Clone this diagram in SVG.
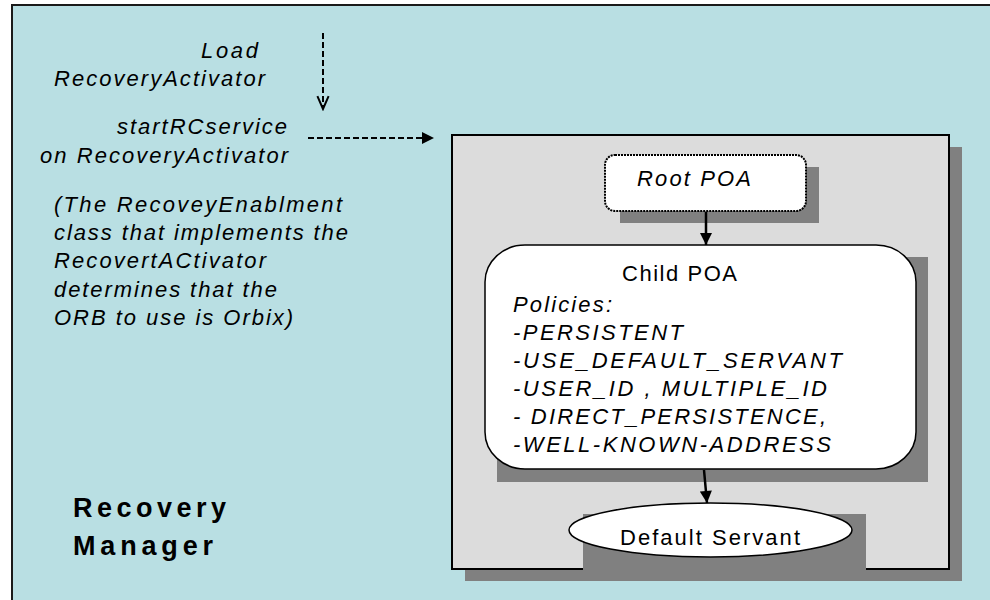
<svg xmlns="http://www.w3.org/2000/svg" width="990" height="600" viewBox="0 0 990 600">
<defs>
<style>
.it{font-family:"Liberation Sans",Arial,sans-serif;font-style:italic;font-size:22px;fill:#000}
.rg{font-family:"Liberation Sans",Arial,sans-serif;font-size:22px;fill:#000}
.bd{font-family:"Liberation Sans",Arial,sans-serif;font-weight:bold;font-size:27px;fill:#000}
.shadow{fill:#808080}
.node{fill:#fff;stroke:#000;stroke-width:1.5}
.dash{fill:none;stroke:#000;stroke-width:2;stroke-dasharray:6 3}
.solid{fill:none;stroke:#000;stroke-width:2.5}
</style>
<marker id="tri" viewBox="0 0 10 10" refX="10" refY="5" markerWidth="14" markerHeight="12" markerUnits="userSpaceOnUse" orient="auto">
<path d="M0,0 L10,5 L0,10 Z" fill="#000"/>
</marker>
<marker id="vee" viewBox="0 0 20 16" refX="18" refY="8" markerWidth="16" markerHeight="14" markerUnits="userSpaceOnUse" orient="auto">
<path d="M2,1 L18,8 L2,15" fill="none" stroke="#000" stroke-width="2.5"/>
</marker>
</defs>

<g id="recovery-manager">
<rect x="12" y="5" width="1000" height="620" fill="#B9DFE3" stroke="#1a1a1a" stroke-width="2"/>
<text class="bd" x="73" y="517" textLength="153" lengthAdjust="spacing">Recovery</text>
<text class="bd" x="73" y="555" textLength="140" lengthAdjust="spacing">Manager</text>
</g>

<g id="labels">
<text class="it" x="201" y="58" textLength="57" lengthAdjust="spacing">Load</text>
<text class="it" x="54" y="86" textLength="211" lengthAdjust="spacing">RecoveryActivator</text>
<text class="it" x="117" y="134" textLength="170" lengthAdjust="spacing">startRCservice</text>
<text class="it" x="40" y="163" textLength="248" lengthAdjust="spacing">on RecoveryActivator</text>
<text class="it" x="54" y="212" textLength="288" lengthAdjust="spacing">(The RecoveyEnablment</text>
<text class="it" x="54" y="240" textLength="294" lengthAdjust="spacing">class that implements the</text>
<text class="it" x="54" y="268" textLength="212" lengthAdjust="spacing">RecovertACtivator</text>
<text class="it" x="54" y="297" textLength="223" lengthAdjust="spacing">determines that the</text>
<text class="it" x="54" y="325" textLength="239" lengthAdjust="spacing">ORB to use is Orbix)</text>
</g>

<g id="orb-panel">
<rect class="shadow" x="465" y="147" width="497" height="434"/>
<rect x="452" y="135" width="497" height="434" fill="#DCDCDC" stroke="#000" stroke-width="2"/>
</g>

<g id="root-poa">
<rect class="shadow" x="620" y="167" width="199" height="56"/>
<rect x="605" y="155" width="201" height="56" rx="10" ry="10" fill="#fff" stroke="#000" stroke-width="2" stroke-dasharray="2 1"/>
<text class="it" x="637" y="186" textLength="114" lengthAdjust="spacing">Root POA</text>
</g>

<g id="child-poa">
<rect class="shadow" x="497" y="257" width="431" height="225"/>
<rect class="node" x="485" y="245" width="431" height="224" rx="40" ry="37"/>
<text class="rg" x="622" y="281" textLength="115" lengthAdjust="spacing">Child POA</text>
<text class="it" x="513" y="312" textLength="99" lengthAdjust="spacing">Policies:</text>
<text class="it" x="513" y="340" textLength="170" lengthAdjust="spacing">-PERSISTENT</text>
<text class="it" x="513" y="368" textLength="329" lengthAdjust="spacing">-USE_DEFAULT_SERVANT</text>
<text class="it" x="513" y="396" textLength="314" lengthAdjust="spacing">-USER_ID ,  MULTIPLE_ID</text>
<text class="it" x="513" y="424" textLength="313" lengthAdjust="spacing">- DIRECT_PERSISTENCE,</text>
<text class="it" x="513" y="452" textLength="318" lengthAdjust="spacing">-WELL-KNOWN-ADDRESS</text>
</g>

<g id="default-servant">
<rect class="shadow" x="583" y="514" width="283" height="56"/>
<ellipse class="node" cx="710.5" cy="530" rx="141.5" ry="27"/>
<text class="rg" x="620" y="545" textLength="180" lengthAdjust="spacing">Default Servant</text>
</g>

<g id="connectors">
<line class="dash" x1="323" y1="33" x2="323" y2="109" marker-end="url(#vee)"/>
<line class="dash" x1="308" y1="138" x2="434" y2="138" marker-end="url(#tri)"/>
<line class="solid" x1="706" y1="212" x2="706" y2="245" marker-end="url(#tri)"/>
<line class="solid" x1="704" y1="470" x2="707" y2="503" marker-end="url(#tri)"/>
</g>
</svg>
